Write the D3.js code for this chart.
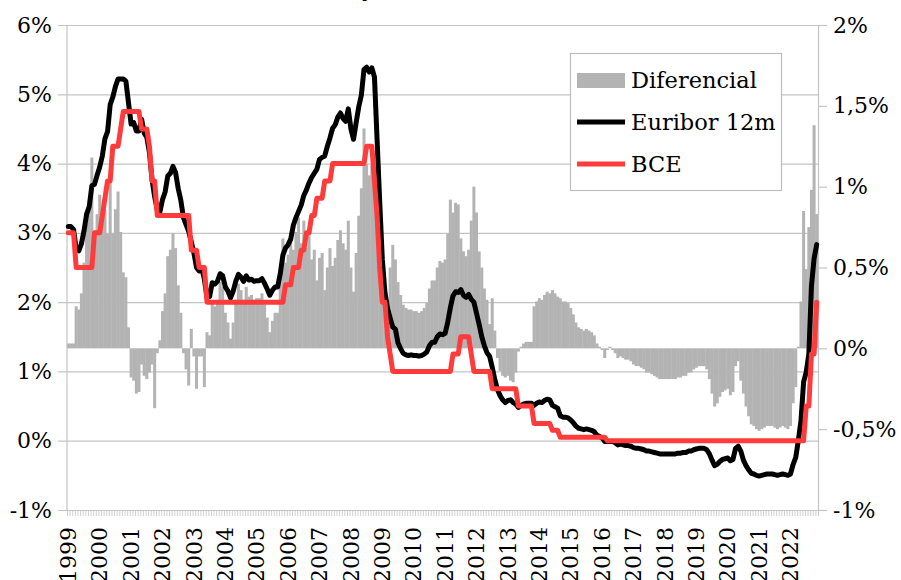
<!DOCTYPE html>
<html>
<head>
<meta charset="utf-8">
<script src="https://cdn.jsdelivr.net/npm/d3@7"></script>
<style>
  body { margin: 0; background: #fff; }
  text { font-family: "DejaVu Serif", serif; }
</style>
</head>
<body>
<svg id="chart" width="901" height="580"></svg>
<script>
// year labels on the category axis (monthly data, jan 1999 - nov 2022)
var years = ["1999","2000","2001","2002","2003","2004","2005","2006","2007","2008","2009","2010",
  "2011","2012","2013","2014","2015","2016","2017","2018","2019","2020","2021","2022"];

// Euribor 12 meses, media mensual (%)
var euribor = [
  3.09, 3.09, 3.05, 2.77, 2.74, 2.84, 3.03, 3.27, 3.38, 3.68, 3.70, 3.83,
  3.95, 4.11, 4.36, 4.46, 4.85, 4.96, 5.11, 5.22, 5.22, 5.22, 5.19, 4.88,
  4.57, 4.59, 4.47, 4.47, 4.64, 4.44, 4.38, 4.16, 3.77, 3.52, 3.33, 3.30,
  3.48, 3.59, 3.82, 3.86, 3.96, 3.87, 3.64, 3.47, 3.22, 3.12, 3.02, 2.87,
  2.71, 2.50, 2.45, 2.49, 2.33, 2.07, 2.08, 2.28, 2.26, 2.30, 2.41, 2.38,
  2.22, 2.16, 2.06, 2.16, 2.30, 2.40, 2.36, 2.30, 2.38, 2.32, 2.33, 2.30,
  2.31, 2.31, 2.34, 2.27, 2.19, 2.10, 2.17, 2.22, 2.22, 2.41, 2.68, 2.78,
  2.83, 2.91, 3.11, 3.22, 3.31, 3.40, 3.54, 3.62, 3.72, 3.80, 3.86, 3.92,
  4.06, 4.09, 4.11, 4.25, 4.37, 4.51, 4.56, 4.67, 4.73, 4.65, 4.61, 4.79,
  4.50, 4.35, 4.59, 4.82, 4.99, 5.36, 5.39, 5.32, 5.38, 5.25, 4.35, 3.45,
  2.62, 2.14, 1.91, 1.77, 1.64, 1.61, 1.41, 1.33, 1.26, 1.24, 1.23, 1.24,
  1.23, 1.23, 1.22, 1.23, 1.25, 1.28, 1.37, 1.42, 1.42, 1.50, 1.54, 1.53,
  1.55, 1.71, 1.92, 2.09, 2.15, 2.14, 2.18, 2.10, 2.07, 2.11, 2.04, 2.00,
  1.84, 1.68, 1.50, 1.37, 1.27, 1.22, 1.06, 0.88, 0.74, 0.65, 0.59, 0.55,
  0.58, 0.59, 0.55, 0.53, 0.48, 0.51, 0.53, 0.54, 0.54, 0.54, 0.51, 0.54,
  0.56, 0.55, 0.58, 0.60, 0.59, 0.51, 0.49, 0.47, 0.36, 0.34, 0.34, 0.33,
  0.30, 0.26, 0.21, 0.18, 0.17, 0.16, 0.17, 0.16, 0.15, 0.13, 0.08, 0.06,
  0.04, -0.01, -0.01, -0.01, -0.01, -0.03, -0.06, -0.05, -0.06, -0.07, -0.07, -0.08,
  -0.10, -0.11, -0.11, -0.12, -0.13, -0.15, -0.15, -0.16, -0.17, -0.18, -0.19, -0.19,
  -0.19, -0.19, -0.19, -0.19, -0.19, -0.18, -0.18, -0.17, -0.17, -0.15, -0.15, -0.13,
  -0.12, -0.11, -0.11, -0.11, -0.13, -0.19, -0.28, -0.36, -0.34, -0.30, -0.27, -0.26,
  -0.25, -0.29, -0.27, -0.11, -0.08, -0.15, -0.28, -0.36, -0.42, -0.47, -0.48, -0.50,
  -0.51, -0.50, -0.49, -0.48, -0.48, -0.48, -0.49, -0.50, -0.49, -0.48, -0.49, -0.50,
  -0.48, -0.34, -0.24, 0.01, 0.29, 0.85, 0.99, 1.25, 2.23, 2.63, 2.83
];

// tipo BCE (operaciones principales de financiacion), fin de mes (%)
var bce = [
  3, 3, 3, 2.5, 2.5, 2.5, 2.5, 2.5, 2.5, 2.5, 3, 3,
  3, 3.25, 3.5, 3.75, 3.75, 4.25, 4.25, 4.25, 4.5, 4.75, 4.75, 4.75,
  4.75, 4.75, 4.75, 4.75, 4.5, 4.5, 4.5, 4.25, 3.75, 3.75, 3.25, 3.25,
  3.25, 3.25, 3.25, 3.25, 3.25, 3.25, 3.25, 3.25, 3.25, 3.25, 3.25, 2.75,
  2.75, 2.75, 2.5, 2.5, 2.5, 2, 2, 2, 2, 2, 2, 2,
  2, 2, 2, 2, 2, 2, 2, 2, 2, 2, 2, 2,
  2, 2, 2, 2, 2, 2, 2, 2, 2, 2, 2, 2.25,
  2.25, 2.25, 2.5, 2.5, 2.5, 2.75, 2.75, 3, 3, 3.25, 3.25, 3.5,
  3.5, 3.5, 3.75, 3.75, 3.75, 4, 4, 4, 4, 4, 4, 4,
  4, 4, 4, 4, 4, 4, 4.25, 4.25, 4.25, 3.75, 3.25, 2.5,
  2, 2, 1.5, 1.25, 1, 1, 1, 1, 1, 1, 1, 1,
  1, 1, 1, 1, 1, 1, 1, 1, 1, 1, 1, 1,
  1, 1, 1, 1.25, 1.25, 1.25, 1.5, 1.5, 1.5, 1.5, 1.25, 1,
  1, 1, 1, 1, 1, 1, 0.75, 0.75, 0.75, 0.75, 0.75, 0.75,
  0.75, 0.75, 0.75, 0.75, 0.5, 0.5, 0.5, 0.5, 0.5, 0.5, 0.25, 0.25,
  0.25, 0.25, 0.25, 0.25, 0.25, 0.15, 0.15, 0.15, 0.05, 0.05, 0.05, 0.05,
  0.05, 0.05, 0.05, 0.05, 0.05, 0.05, 0.05, 0.05, 0.05, 0.05, 0.05, 0.05,
  0.05, 0.05, 0, 0, 0, 0, 0, 0, 0, 0, 0, 0,
  0, 0, 0, 0, 0, 0, 0, 0, 0, 0, 0, 0,
  0, 0, 0, 0, 0, 0, 0, 0, 0, 0, 0, 0,
  0, 0, 0, 0, 0, 0, 0, 0, 0, 0, 0, 0,
  0, 0, 0, 0, 0, 0, 0, 0, 0, 0, 0, 0,
  0, 0, 0, 0, 0, 0, 0, 0, 0, 0, 0, 0,
  0, 0, 0, 0, 0, 0, 0.5, 0.5, 1.25, 1.25, 2
];

// diferencial Euribor - BCE (eje derecho, %)
var diferencial = [
  0.03, 0.03, 0.03, 0.26, 0.24, 0.34, 0.53, 0.77, 0.88, 1.18, 0.70, 0.83,
  0.95, 0.86, 0.86, 0.71, 1.10, 0.71, 0.86, 0.97, 0.72, 0.47, 0.44, 0.13,
  -0.18, -0.20, -0.28, -0.27, -0.10, -0.17, -0.19, -0.15, -0.10, -0.37, -0.03, 0.05,
  0.23, 0.34, 0.57, 0.61, 0.71, 0.62, 0.39, 0.22, -0.03, -0.13, -0.23, 0.12,
  -0.05, -0.25, -0.05, -0.05, -0.24, 0.10, 0.08, 0.28, 0.26, 0.30, 0.41, 0.38,
  0.22, 0.16, 0.06, 0.16, 0.30, 0.40, 0.36, 0.30, 0.38, 0.32, 0.33, 0.30,
  0.31, 0.31, 0.34, 0.27, 0.19, 0.10, 0.17, 0.22, 0.22, 0.41, 0.68, 0.53,
  0.58, 0.66, 0.61, 0.72, 0.81, 0.65, 0.79, 0.62, 0.72, 0.55, 0.61, 0.42,
  0.56, 0.59, 0.36, 0.50, 0.62, 0.51, 0.56, 0.67, 0.73, 0.65, 0.61, 0.79,
  0.50, 0.35, 0.59, 0.82, 0.99, 1.36, 1.14, 1.07, 1.13, 1.00, 0.75, 0.50,
  0.45, 0.20, 0.30, 0.50, 0.64, 0.55, 0.41, 0.33, 0.27, 0.25, 0.24, 0.24,
  0.23, 0.23, 0.22, 0.23, 0.25, 0.28, 0.37, 0.42, 0.42, 0.50, 0.54, 0.53,
  0.55, 0.71, 0.92, 0.84, 0.90, 0.89, 0.68, 0.60, 0.57, 0.61, 0.79, 1.00,
  0.84, 0.60, 0.50, 0.37, 0.30, 0.15, 0.31, 0.11, -0.06, -0.14, -0.17, -0.18,
  -0.17, -0.20, -0.21, -0.15, -0.02, 0.01, 0.03, 0.04, 0.04, 0.04, 0.26, 0.29,
  0.31, 0.30, 0.33, 0.35, 0.34, 0.36, 0.34, 0.32, 0.31, 0.29, 0.29, 0.28,
  0.25, 0.21, 0.16, 0.13, 0.12, 0.11, 0.12, 0.11, 0.10, 0.08, 0.03, 0.01,
  -0.01, -0.06, -0.01, 0.01, -0.01, -0.03, -0.06, -0.05, -0.06, -0.07, -0.07, -0.08,
  -0.10, -0.11, -0.11, -0.12, -0.13, -0.15, -0.15, -0.16, -0.17, -0.18, -0.19, -0.19,
  -0.19, -0.19, -0.19, -0.19, -0.19, -0.18, -0.18, -0.17, -0.17, -0.15, -0.15, -0.13,
  -0.12, -0.11, -0.11, -0.11, -0.13, -0.19, -0.28, -0.36, -0.34, -0.30, -0.27, -0.26,
  -0.25, -0.29, -0.27, -0.11, -0.08, -0.20, -0.28, -0.36, -0.42, -0.47, -0.48, -0.50,
  -0.51, -0.50, -0.49, -0.48, -0.48, -0.48, -0.49, -0.50, -0.49, -0.48, -0.49, -0.50,
  -0.48, -0.34, -0.24, 0.01, 0.29, 0.85, 0.49, 0.75, 0.98, 1.38, 0.83
];

var leftTicks = [-1, 0, 1, 2, 3, 4, 5, 6];
var leftLabels = ["-1%", "0%", "1%", "2%", "3%", "4%", "5%", "6%"];
var rightTicks = [-1, -0.5, 0, 0.5, 1, 1.5, 2];
var rightLabels = ["-1%", "-0,5%", "0%", "0,5%", "1%", "1,5%", "2%"];
var seriesNames = ["Diferencial", "Euribor 12m", "BCE"];

// one category per month
var months = euribor.map(function(d, i) { return years[Math.floor(i / 12)] + "-" + (i % 12 + 1); });

// plot box (window.top is taken, so no "top" here)
var plotL = 67, plotR = 818, plotT = 25, plotB = 510;
var grid = "#c4c4c4";
var fs = "22px";

var svg = d3.select("#chart");

var x = d3.scaleBand().domain(months).range([plotL, plotR]).padding(0);
var yL = d3.scaleLinear().domain([-1, 6]).range([plotB, plotT]);
var yR = d3.scaleLinear().domain([-1, 2]).range([plotB, plotT]);
var bw = x.bandwidth();

// title, mostly above the visible area like in the source picture
svg.append("text")
  .attr("x", 476).attr("y", -4)
  .attr("text-anchor", "end")
  .style("font-size", fs)
  .text("Euribor 12m y BCE (%)");

// horizontal gridlines + left labels
var gl = svg.append("g")
  .attr("transform", "translate(" + (plotL - 9) + ",0)")
  .call(d3.axisLeft(yL)
    .tickValues(leftTicks)
    .tickFormat(function(d, i) { return leftLabels[i]; })
    .tickSize(-(plotR - plotL + 9))
    .tickPadding(6));
gl.select(".domain").remove();
gl.selectAll("line").attr("stroke", grid).attr("stroke-width", 1.2);
gl.selectAll("text").style("font-size", fs).attr("fill", "#000");

// bars (right axis)
svg.append("g")
  .selectAll("rect")
  .data(diferencial)
  .enter().append("rect")
  .attr("x", function(d, i) { return x(months[i]) - 0.2; })
  .attr("width", bw + 0.4)
  .attr("y", function(d) { return Math.min(yR(d), yR(0)); })
  .attr("height", function(d) { return Math.abs(yR(d) - yR(0)); })
  .attr("fill", "#b3b3b3");

// left axis line
svg.append("line")
  .attr("x1", plotL).attr("x2", plotL).attr("y1", plotT).attr("y2", plotB)
  .attr("stroke", grid).attr("stroke-width", 1.2);

// right axis
var gr = svg.append("g")
  .attr("transform", "translate(" + plotR + ",0)")
  .call(d3.axisRight(yR)
    .tickValues(rightTicks)
    .tickFormat(function(d, i) { return rightLabels[i]; })
    .tickSize(9)
    .tickSizeOuter(0)
    .tickPadding(6));
gr.selectAll("line, path").attr("stroke", grid).attr("stroke-width", 1.2);
gr.selectAll("text").style("font-size", fs).attr("fill", "#000");

// month tick marks along the bottom
var xm = d3.scaleLinear().domain([0, months.length]).range([plotL, plotR]);
var gm = svg.append("g")
  .attr("transform", "translate(0," + plotB + ")")
  .call(d3.axisBottom(xm)
    .tickValues(d3.range(months.length + 1))
    .tickFormat("")
    .tickSize(6)
    .tickSizeOuter(0));
gm.selectAll("line, path").attr("stroke", grid).attr("stroke-width", 0.8);

// year labels, rotated
var gx = svg.append("g")
  .attr("transform", "translate(0," + plotB + ")")
  .call(d3.axisBottom(x)
    .tickValues(months.filter(function(d, i) { return i % 12 === 0; }))
    .tickFormat(function(d) { return d.split("-")[0]; })
    .tickSize(0));
gx.select(".domain").remove();
gx.selectAll("text")
  .attr("transform", "rotate(-90)")
  .attr("x", -17).attr("y", 0).attr("dy", "0.35em")
  .style("text-anchor", "end")
  .style("font-size", fs)
  .attr("fill", "#000");

// lines
var line = d3.line()
  .x(function(d, i) { return x(months[i]) + bw / 2; })
  .y(function(d) { return yL(d); });

svg.append("path")
  .datum(euribor)
  .attr("d", line)
  .attr("fill", "none")
  .attr("stroke", "#000")
  .attr("stroke-width", 5)
  .attr("stroke-linejoin", "round")
  .attr("stroke-linecap", "round");

svg.append("path")
  .datum(bce)
  .attr("d", line)
  .attr("fill", "none")
  .attr("stroke", "#ff3b3b")
  .attr("stroke-width", 5)
  .attr("stroke-linejoin", "round")
  .attr("stroke-linecap", "round");

// legend
var lg = svg.append("g");
lg.append("rect")
  .attr("x", 570.5).attr("y", 53.5).attr("width", 211).attr("height", 137)
  .attr("fill", "#fff").attr("stroke", "#bdbdbd").attr("stroke-width", 1.2);
lg.append("rect")
  .attr("x", 577).attr("y", 73).attr("width", 48).attr("height", 15)
  .attr("fill", "#b3b3b3");
lg.append("line")
  .attr("x1", 577).attr("x2", 625).attr("y1", 122).attr("y2", 122)
  .attr("stroke", "#000").attr("stroke-width", 5);
lg.append("line")
  .attr("x1", 577).attr("x2", 625).attr("y1", 164).attr("y2", 164)
  .attr("stroke", "#ff3b3b").attr("stroke-width", 5);
lg.selectAll("text.leg")
  .data(seriesNames)
  .enter().append("text")
  .attr("class", "leg")
  .attr("x", 631)
  .attr("y", function(d, i) { return 80 + i * 42; })
  .attr("dy", "0.35em")
  .style("font-size", "22.5px")
  .attr("fill", "#000")
  .text(function(d) { return d; });
</script>
</body>
</html>
